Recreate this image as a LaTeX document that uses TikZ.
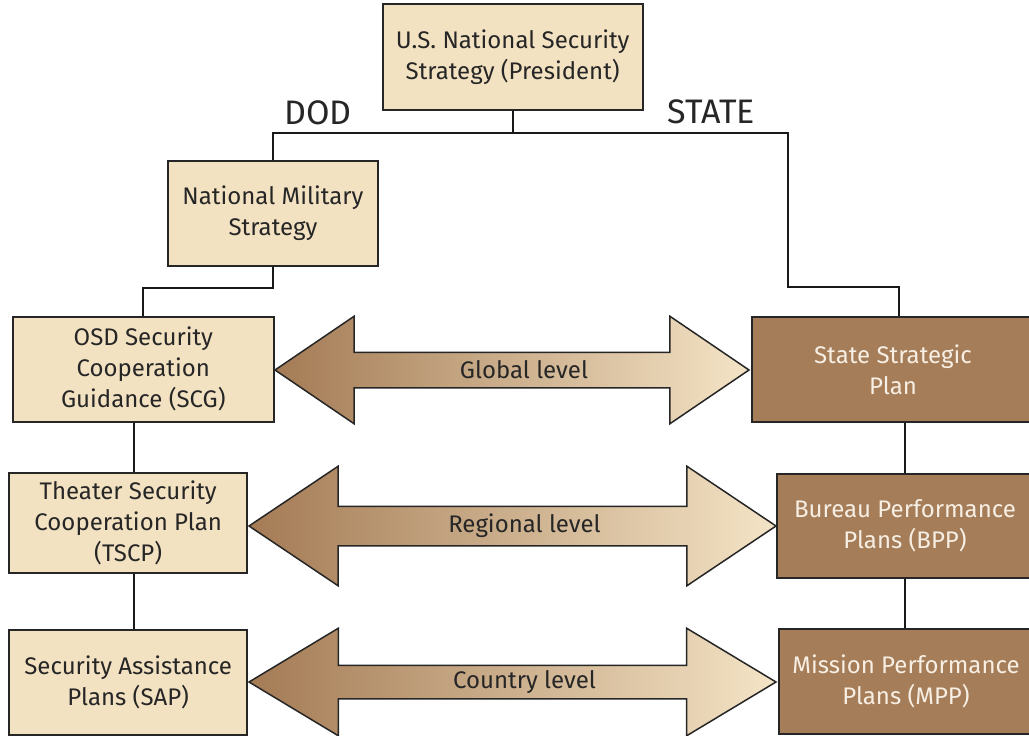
\documentclass[tikz,border=0pt]{standalone}
\usepackage{fontspec}
\setmainfont{Fira Sans}
\usetikzlibrary{shapes.arrows, positioning}
\definecolor{paleTan}{HTML}{F3E2C2}
\definecolor{darkTan}{HTML}{A57D58}
\definecolor{arrowDark}{HTML}{A47B55}
\definecolor{arrowLight}{HTML}{F4E4C6}
\definecolor{inkGray}{HTML}{262626}
\definecolor{paleText}{HTML}{F7EFE4}
\tikzstyle{lightbox} = [rectangle, draw=inkGray, line width=2pt, fill=paleTan, text=inkGray, align=center, font=\fontsize{24}{31}\selectfont]
\tikzstyle{darkbox} = [lightbox, fill=darkTan, text=paleText]
\tikzstyle{level} = [double arrow, draw=inkGray, line width=1.5pt, left color=arrowDark, right color=arrowLight, text height=15pt, text depth=4pt, inner xsep=0pt, double arrow head indent=0pt]
\tikzstyle{link} = [draw=black!90, line width=2pt]
\tikzstyle{branch} = [font=\fontsize{34}{38}\selectfont, text=inkGray]
\tikzset{every label/.style={font=\fontsize{24}{31}\selectfont, text=inkGray, xshift=12pt}}

\begin{document}
\begin{tikzpicture}[x=1pt, y=-1pt]
      \path[use as bounding box, clip] (0,0) rectangle (1029,736);
      % Define nodes
      \node (pres) [lightbox, minimum width=260pt, minimum height=106pt] at (512.7,57) {U.S. National Security\\Strategy (President)};
      \node (nms) [lightbox, minimum width=210pt, minimum height=105pt] at (273,213.2) {National Military\\Strategy};
      \node (osd) [lightbox, minimum width=261pt, minimum height=105pt] at (143.3,369.2) {OSD Security\\Cooperation\\Guidance (SCG)};
      \node (tscp) [lightbox, minimum width=238pt, minimum height=100pt] at (128.2,522.7) {Theater Security\\Cooperation Plan\\(TSCP)};
      \node (sap) [lightbox, minimum width=238pt, minimum height=105pt] at (128.2,682.5) {Security Assistance\\Plans (SAP)};
      \node (ssp) [darkbox, minimum width=282pt, minimum height=105pt] at (893,369.3) {State Strategic\\Plan};
      \node (bpp) [darkbox, minimum width=256pt, minimum height=104pt] at (905,525.5) {Bureau Performance\\Plans (BPP)};
      \node (mpp) [darkbox, minimum width=254pt, minimum height=105pt] at (906,681.5) {Mission Performance\\Plans (MPP)};
      \node (dod) [branch] at (318,112.5) {DOD};
      \node (state) [branch] at (711.5,111.5) {STATE};

      % Level arrows
      \node (global) [level, minimum height=474pt, minimum width=106pt, inner ysep=7.5pt, double arrow head extend=36pt, double arrow tip angle=68.4, label=center:Global level] at (512,370) {};
      \node (regional) [level, minimum height=527pt, minimum width=118pt, inner ysep=9.5pt, double arrow head extend=40pt, double arrow tip angle=67.7, label=center:Regional level] at (512.5,526) {};
      \node (country) [level, minimum height=527pt, minimum width=106pt, inner ysep=6.5pt, double arrow head extend=37pt, double arrow tip angle=62.1, label=center:Country level] at (512.5,682) {};

      % Draw connectors
      \coordinate (fork) at ([yshift=-21.5pt]pres.south);
      \coordinate (statebend) at (787.7,286.7);
      \draw [link] (nms.north) |- (fork) -| (statebend) -| ([xshift=6pt]ssp.north);
      \draw [link] (pres.south) -- (fork);
      \draw [link] (nms.south) -- ++(0,21) -| (osd.north);
      \draw [link] ([xshift=-9pt]osd.south) -- ([xshift=-9pt]osd.south |- tscp.north);
      \draw [link] ([xshift=6pt]tscp.south) -- ([xshift=6pt]tscp.south |- sap.north);
      \draw [link] (bpp.north) -- (bpp.north |- ssp.south);
      \draw [link] (bpp.south) -- (bpp.south |- mpp.north);
    \end{tikzpicture}
\end{document}
